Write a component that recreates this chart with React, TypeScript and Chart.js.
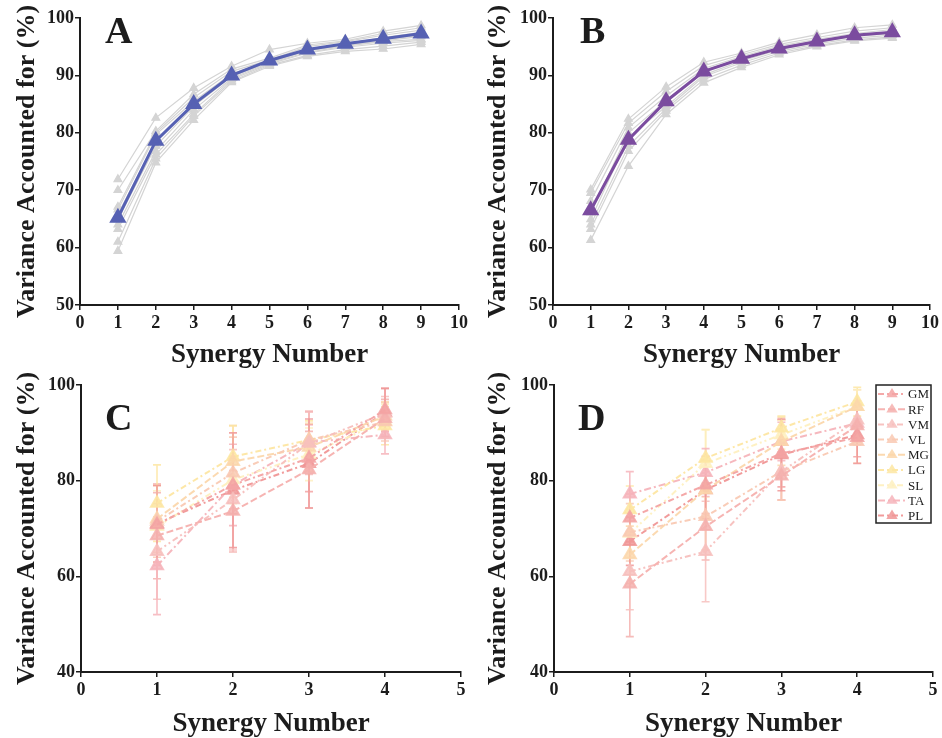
import React, { useEffect, useRef } from "react";
import { Chart, registerables } from "chart.js";

Chart.register(...registerables);

// ---------- DATA ----------
const synergyAB = [1, 2, 3, 4, 5, 6, 7, 8, 9];
const meanA = [65.2, 78.6, 85.0, 90.0, 92.6, 94.5, 95.5, 96.4, 97.3];
const subjectsA = [
  [71.9, 82.6, 87.8, 91.6, 94.5, 95.6, 96.3, 97.7, 98.7],
  [70.0, 80.3, 86.7, 91.1, 93.0, 95.3, 96.0, 97.3, 98.3],
  [67.1, 80.0, 86.1, 90.7, 92.7, 95.0, 95.9, 97.0, 97.9],
  [66.6, 79.7, 85.5, 90.3, 92.5, 94.6, 95.5, 96.6, 97.5],
  [65.8, 78.5, 85.2, 90.0, 92.4, 94.4, 95.3, 96.2, 97.0],
  [64.9, 77.7, 84.6, 89.8, 92.3, 94.3, 95.2, 96.0, 96.8],
  [64.0, 76.8, 84.0, 89.5, 92.2, 94.0, 95.1, 95.9, 96.3],
  [63.2, 76.2, 83.2, 89.3, 92.0, 93.9, 94.9, 95.6, 96.1],
  [61.0, 75.5, 82.9, 89.0, 91.8, 93.5, 94.5, 95.1, 95.8],
  [59.4, 74.8, 82.2, 88.8, 91.6, 93.3, 94.2, 94.6, 95.4],
];
const meanB = [66.5, 78.8, 85.5, 90.7, 92.9, 94.7, 95.9, 97.0, 97.5];
const subjectsB = [
  [70.1, 82.4, 88.0, 92.3, 93.9, 95.8, 97.1, 98.3, 98.8],
  [69.5, 81.7, 87.2, 91.7, 93.6, 95.4, 96.6, 97.7, 98.3],
  [68.1, 80.9, 86.4, 91.2, 93.3, 95.1, 96.3, 97.3, 98.0],
  [66.1, 80.0, 85.6, 90.8, 93.0, 94.8, 96.0, 97.0, 97.6],
  [64.9, 79.2, 84.6, 90.1, 92.5, 94.5, 95.8, 96.8, 97.3],
  [64.0, 77.7, 84.2, 89.8, 92.2, 94.2, 95.5, 96.5, 97.0],
  [63.2, 76.8, 83.8, 89.3, 91.8, 93.9, 95.2, 96.2, 96.7],
  [61.3, 74.2, 83.2, 88.7, 91.4, 93.6, 95.0, 96.0, 96.5],
];

const synergyCD = [1, 2, 3, 4];
const muscles = ["GM", "RF", "VM", "VL", "MG", "LG", "SL", "TA", "PL"];
const muscleColors = [
  "#f3a3a3", "#f5b0ae", "#f7bfbd", "#f9c9b3", "#fbd7ac",
  "#fde6a2", "#fef0c0", "#f6b4bb", "#f09696",
];
const muscleDashes = [
  [6, 3, 2, 3], [7, 3], [6, 3, 2, 3, 2, 3], [6, 3, 2, 3], [7, 3],
  [6, 3, 2, 3], [6, 3, 2, 3, 2, 3], [7, 3, 2, 3], [6, 3, 2, 3],
];
const meansC = [
  [70.8, 79.1, 84.7, 94.8],
  [68.5, 73.6, 82.3, 93.0],
  [65.2, 76.0, 87.8, 94.1],
  [71.5, 81.6, 88.5, 92.3],
  [72.0, 84.0, 87.0, 93.5],
  [75.3, 85.0, 88.5, 91.5],
  [70.4, 80.2, 85.5, 92.5],
  [62.2, 79.1, 88.0, 89.6],
  [71.0, 78.0, 83.6, 94.3],
];
const sdC = [
  [8.5, 6.0, 7.0, 4.5],
  [9.0, 8.5, 8.0, 4.0],
  [10.0, 10.5, 6.5, 3.5],
  [7.5, 7.5, 6.0, 4.0],
  [7.0, 7.5, 5.0, 3.0],
  [8.0, 6.5, 4.0, 4.0],
  [7.5, 5.0, 5.5, 3.5],
  [10.2, 8.5, 6.5, 4.0],
  [8.0, 12.0, 9.3, 5.0],
];
const meansD = [
  [72.2, 79.1, 85.7, 89.0],
  [58.4, 70.4, 81.0, 91.5],
  [61.0, 65.2, 81.9, 92.7],
  [69.2, 72.5, 81.9, 88.2],
  [64.5, 78.1, 88.2, 95.5],
  [73.9, 84.7, 91.0, 96.5],
  [69.0, 83.6, 89.6, 95.5],
  [77.2, 81.7, 88.2, 92.0],
  [67.3, 78.1, 85.4, 89.6],
];
const sdD = [
  [5.0, 6.0, 7.0, 4.0],
  [11.0, 7.0, 5.0, 4.0],
  [8.0, 10.5, 6.0, 4.0],
  [6.0, 7.0, 6.0, 4.5],
  [6.0, 6.0, 5.0, 3.5],
  [5.0, 6.0, 2.5, 3.0],
  [5.0, 7.0, 3.0, 3.5],
  [4.7, 5.0, 4.0, 4.0],
  [5.0, 6.0, 7.5, 6.0],
];

const yTitle = "Variance Accounted for (%)";
const xTitle = "Synergy Number";

// ---------- HELPERS ----------
const SERIF = "'Liberation Serif', 'Times New Roman', serif";
const INK = "#1c1c1c";
const W = 471;
const H = 369;

const pts = (xs: number[], ys: number[]) => xs.map((x, i) => ({ x, y: ys[i] }));

function hexA(hex: string, a: number) {
  const n = parseInt(hex.slice(1), 16);
  return `rgba(${(n >> 16) & 255},${(n >> 8) & 255},${n & 255},${a})`;
}

const errorBarPlugin = {
  id: "errorBars",
  beforeDatasetsDraw(chart: any) {
    const { ctx } = chart;
    const xs = chart.scales.x;
    const ys = chart.scales.y;
    chart.data.datasets.forEach((ds: any) => {
      if (!ds.errors) return;
      ctx.save();
      ctx.strokeStyle = hexA(ds.baseColor, 0.85);
      ctx.lineWidth = 1.6;
      ds.data.forEach((p: any, j: number) => {
        const px = xs.getPixelForValue(p.x);
        const t = ys.getPixelForValue(p.y + ds.errors[j]);
        const b = ys.getPixelForValue(p.y - ds.errors[j]);
        ctx.beginPath();
        ctx.moveTo(px, t);
        ctx.lineTo(px, b);
        ctx.moveTo(px - 4, t);
        ctx.lineTo(px + 4, t);
        ctx.moveTo(px - 4, b);
        ctx.lineTo(px + 4, b);
        ctx.stroke();
      });
      ctx.restore();
    });
  },
};

const letterPlugin = {
  id: "panelLetter",
  afterDraw(chart: any, _args: any, opts: any) {
    if (!opts || !opts.text) return;
    const { ctx, chartArea } = chart;
    ctx.save();
    ctx.font = `bold 38px ${SERIF}`;
    ctx.fillStyle = INK;
    ctx.textBaseline = "alphabetic";
    ctx.textAlign = "left";
    ctx.fillText(opts.text, chartArea.left + opts.dx, chartArea.top + opts.dy);
    ctx.restore();
  },
};

const boxLegendPlugin = {
  id: "boxLegend",
  afterDraw(chart: any, _args: any, opts: any) {
    if (!opts || !opts.show) return;
    const { ctx, chartArea } = chart;
    const bw = 55;
    const bh = 138;
    const left = chartArea.right - bw - 2;
    const top = chartArea.top;
    ctx.save();
    ctx.fillStyle = "#ffffff";
    ctx.fillRect(left, top, bw, bh);
    ctx.strokeStyle = "#222";
    ctx.lineWidth = 1.5;
    ctx.strokeRect(left, top, bw, bh);
    chart.data.datasets.forEach((ds: any, i: number) => {
      const cy = top + 9 + i * 15.2;
      ctx.strokeStyle = ds.borderColor;
      ctx.lineWidth = 2;
      ctx.setLineDash(ds.borderDash || []);
      ctx.beginPath();
      ctx.moveTo(left + 2, cy);
      ctx.lineTo(left + 30, cy);
      ctx.stroke();
      ctx.setLineDash([]);
      ctx.fillStyle = ds.pointBackgroundColor;
      const r = 6;
      const cx = left + 16;
      ctx.beginPath();
      ctx.moveTo(cx, cy - r);
      ctx.lineTo(cx + r * 0.95, cy + r * 0.55);
      ctx.lineTo(cx - r * 0.95, cy + r * 0.55);
      ctx.closePath();
      ctx.fill();
      ctx.fillStyle = INK;
      ctx.font = `13px ${SERIF}`;
      ctx.textBaseline = "middle";
      ctx.textAlign = "left";
      ctx.fillText(ds.label, left + 32, cy + 1);
    });
    ctx.restore();
  },
};

type PanelCfg = {
  datasets: any[];
  xMax: number;
  yMin: number;
  yStep: number;
  area: { l: number; r: number; t: number; b: number };
  letter: { text: string; dx: number; dy: number };
  legend: boolean;
};

function buildConfig(p: PanelCfg): any {
  const tickFont = { family: SERIF, size: 18, weight: "bold" as const };
  const xTitleFont = { family: SERIF, size: 27, weight: "bold" as const, lineHeight: 1.0 };
  const yTitleFont = { family: SERIF, size: 26, weight: "bold" as const, lineHeight: 1.2 };
  return {
    type: "line",
    data: { datasets: p.datasets },
    plugins: [errorBarPlugin, letterPlugin, boxLegendPlugin],
    options: {
      animation: false,
      responsive: false,
      maintainAspectRatio: false,
      layout: { padding: { left: 0, top: p.area.t, right: W - p.area.r, bottom: 0 } },
      plugins: {
        legend: { display: false },
        tooltip: { enabled: false },
        panelLetter: p.letter,
        boxLegend: { show: p.legend },
      },
      scales: {
        x: {
          type: "linear",
          min: 0,
          max: p.xMax,
          ticks: { stepSize: 1, font: tickFont, color: INK, padding: 3, maxRotation: 0 },
          grid: { display: true, drawOnChartArea: false, drawTicks: true, tickLength: 5, color: INK, lineWidth: 1.5 },
          border: { display: true, color: INK, width: 2 },
          title: { display: true, text: xTitle, font: xTitleFont, color: INK, padding: { top: 0, bottom: 0 } },
          afterFit: (s: any) => { s.height = H - p.area.b; },
        },
        y: {
          min: p.yMin,
          max: 100,
          ticks: { stepSize: p.yStep, font: tickFont, color: INK, padding: 1 },
          grid: { display: true, drawOnChartArea: false, drawTicks: true, tickLength: 5, color: INK, lineWidth: 1.5 },
          border: { display: true, color: INK, width: 2 },
          title: { display: true, text: yTitle, font: yTitleFont, color: INK, padding: { top: 12, bottom: 0 } },
          afterFit: (s: any) => { s.width = p.area.l; },
        },
      },
    },
  };
}

function meanSet(xs: number[], subjects: number[][], mean: number[], color: string) {
  const grays = subjects.map((s, i) => ({
    label: `S${i + 1}`,
    data: pts(xs, s),
    borderColor: "#d4d4d4",
    backgroundColor: "#d4d4d4",
    pointBackgroundColor: "#d4d4d4",
    pointBorderColor: "#d4d4d4",
    borderWidth: 1.2,
    pointStyle: "triangle",
    pointRadius: 4.5,
    tension: 0,
    order: 1,
  }));
  const m = {
    label: "Mean",
    data: pts(xs, mean),
    borderColor: color,
    backgroundColor: color,
    pointBackgroundColor: color,
    pointBorderColor: color,
    borderWidth: 3,
    pointStyle: "triangle",
    pointRadius: 7,
    tension: 0,
    order: 0,
  };
  return [m, ...grays];
}

function muscleSet(xs: number[], means: number[][], sds: number[][]) {
  return muscles.map((name, i) => ({
    label: name,
    data: pts(xs, means[i]),
    errors: sds[i],
    baseColor: muscleColors[i],
    borderColor: hexA(muscleColors[i], 0.95),
    backgroundColor: hexA(muscleColors[i], 0.85),
    pointBackgroundColor: hexA(muscleColors[i], 0.85),
    pointBorderColor: hexA(muscleColors[i], 0.85),
    borderWidth: 2,
    borderDash: muscleDashes[i],
    pointStyle: "triangle",
    pointRadius: 7,
    tension: 0,
  }));
}

function Panel({ cfg, left, top }: { cfg: PanelCfg; left: number; top: number }) {
  const ref = useRef<HTMLCanvasElement | null>(null);
  useEffect(() => {
    if (!ref.current) return;
    const chart = new Chart(ref.current, buildConfig(cfg));
    return () => chart.destroy();
  }, []);
  return (
    <canvas
      ref={ref}
      width={W}
      height={H}
      style={{ position: "absolute", left, top, width: W, height: H }}
    />
  );
}

export default function App() {
  const A: PanelCfg = {
    datasets: meanSet(synergyAB, subjectsA, meanA, "#5661b3"),
    xMax: 10, yMin: 50, yStep: 10,
    area: { l: 80, r: 460, t: 18, b: 305 },
    letter: { text: "A", dx: 25, dy: 25 },
    legend: false,
  };
  const B: PanelCfg = {
    datasets: meanSet(synergyAB, subjectsB, meanB, "#7b4c9f"),
    xMax: 10, yMin: 50, yStep: 10,
    area: { l: 82, r: 461, t: 18, b: 305 },
    letter: { text: "B", dx: 27, dy: 25 },
    legend: false,
  };
  const C: PanelCfg = {
    datasets: muscleSet(synergyCD, meansC, sdC),
    xMax: 5, yMin: 40, yStep: 20,
    area: { l: 81, r: 461, t: 16, b: 303 },
    letter: { text: "C", dx: 24, dy: 45 },
    legend: false,
  };
  const D: PanelCfg = {
    datasets: muscleSet(synergyCD, meansD, sdD),
    xMax: 5, yMin: 40, yStep: 20,
    area: { l: 83, r: 463, t: 16, b: 303 },
    letter: { text: "D", dx: 24, dy: 45 },
    legend: true,
  };
  return (
    <div style={{ position: "absolute", left: 0, top: 0, width: 942, height: 738, background: "#fff" }}>
      <Panel cfg={A} left={0} top={0} />
      <Panel cfg={B} left={471} top={0} />
      <Panel cfg={C} left={0} top={369} />
      <Panel cfg={D} left={471} top={369} />
    </div>
  );
}
